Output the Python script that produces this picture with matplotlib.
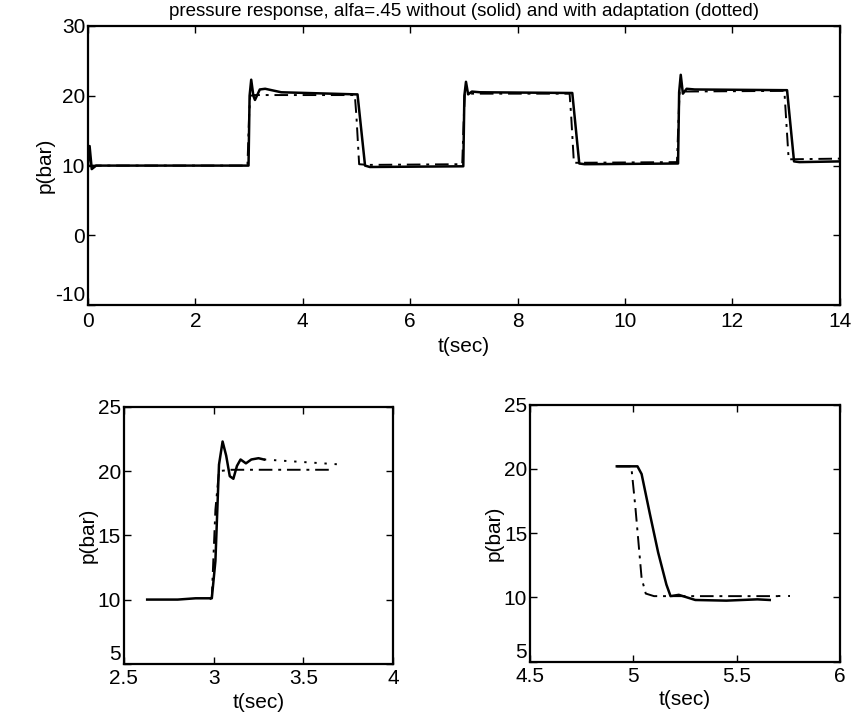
import matplotlib
matplotlib.use("Agg")
import matplotlib.pyplot as plt

plt.rcParams['font.family'] = ['Liberation Sans', 'DejaVu Sans']
plt.rcParams['axes.unicode_minus'] = False

# top panel, whole run (solid = without adaptation, dash-dot = with adaptation)
t_top_solid = [0, 0.03, 0.07, 0.15, 2.99, 3.01, 3.04, 3.08, 3.11, 3.2, 3.3, 3.6,
               4.98, 5.02, 5.16, 5.25, 6.99, 7.01, 7.04, 7.08, 7.15, 7.3,
               8.98, 9.02, 9.15, 9.25, 10.99, 11.01, 11.04, 11.08, 11.15, 11.3,
               12.98, 13.02, 13.15, 13.25, 14.0]
p_top_solid = [10, 12.8, 9.5, 10, 10, 20, 22.3, 20, 19.4, 20.9, 21.0, 20.5,
               20.2, 20.2, 10, 9.8, 9.9, 20, 22, 20.2, 20.6, 20.5,
               20.4, 20.4, 10.3, 10.2, 10.3, 20.5, 23, 20.3, 21.0, 20.9,
               20.8, 20.8, 10.6, 10.5, 10.6]
t_top_adapt = [0, 2.97, 3.0, 3.02, 3.1, 4.97, 5.0, 5.05, 5.2, 6.97, 7.0, 7.02,
               8.97, 9.0, 9.05, 10.97, 11.0, 11.02, 12.97, 13.0, 13.05, 14.0]
p_top_adapt = [10, 10, 17, 20.0, 20.1, 20.1, 17, 10.2, 10.1, 10.2, 17, 20.3,
               20.3, 17, 10.4, 10.5, 17, 20.6, 20.7, 17, 10.9, 11.0]

# bottom left, step up near t=3
t_up_solid = [2.63, 2.80, 2.90, 2.99, 3.01, 3.03, 3.05, 3.07, 3.09, 3.11,
              3.13, 3.15, 3.18, 3.21, 3.25, 3.28]
p_up_solid = [10.0, 10.0, 10.1, 10.1, 13, 20.5, 22.3, 21.2, 19.6, 19.4,
              20.4, 20.9, 20.6, 20.9, 21.0, 20.9]
t_up_dot = [3.28, 3.5, 3.72]
p_up_dot = [20.9, 20.7, 20.5]
t_up_adapt = [2.98, 2.99, 3.01, 3.03, 3.1, 3.65]
p_up_adapt = [10.0, 10.2, 17, 20.0, 20.1, 20.1]

# bottom right, step down near t=5
t_dn_solid = [4.92, 5.02, 5.04, 5.08, 5.12, 5.16, 5.18, 5.22, 5.3, 5.45, 5.6, 5.66]
p_dn_solid = [20.2, 20.2, 19.6, 16.5, 13.5, 11, 10.1, 10.2, 9.8, 9.75, 9.85, 9.8]
t_dn_adapt = [4.92, 4.99, 5.01, 5.04, 5.06, 5.1, 5.7]
p_dn_adapt = [20.2, 20.2, 17, 11.5, 10.3, 10.1, 10.1]
t_dn_dot = [5.7, 5.76]
p_dn_dot = [10.1, 10.1]

title = 'pressure response, alfa=.45 without (solid) and with adaptation (dotted)'

dashdot = (0, (7, 3, 1.5, 3))
dotted = (0, (1.2, 4))
fs = 15

fig = plt.figure(figsize=(8.66, 7.2), dpi=100)


def style(ax, xpad=2, lpad=1):
    ax.tick_params(direction='in', top=True, right=True, length=5, width=1,
                   labelsize=fs, pad=2)
    ax.tick_params(axis='x', pad=xpad)
    for s in ax.spines.values():
        s.set_linewidth(1.6)
    ax.set_xlabel('t(sec)', fontsize=fs, labelpad=lpad)
    ax.set_ylabel('p(bar)', fontsize=fs, labelpad=0)


ax1 = fig.add_axes([0.1016, 0.576, 0.868, 0.388])
ax1.plot(t_top_solid, p_top_solid, color='black', lw=1.8)
ax1.plot(t_top_adapt, p_top_adapt, color='black', lw=1.4, linestyle=dashdot)
ax1.set_xlim(0, 14)
ax1.set_ylim(-10, 30)
ax1.set_xticks(range(0, 15, 2))
ax1.set_yticks([-10, 0, 10, 20, 30])
style(ax1, xpad=5, lpad=4)
ax1.set_title(title, fontsize=13.5, pad=7)

ax2 = fig.add_axes([0.143, 0.078, 0.311, 0.357])
ax2.plot(t_up_solid, p_up_solid, color='black', lw=1.8)
ax2.plot(t_up_dot, p_up_dot, color='black', lw=1.4, linestyle=dotted)
ax2.plot(t_up_adapt, p_up_adapt, color='black', lw=1.4, linestyle=dashdot)
ax2.set_xlim(2.5, 4)
ax2.set_ylim(5, 25)
ax2.set_xticks([2.5, 3, 3.5, 4])
ax2.set_xticklabels(['2.5', '3', '3.5', '4'])
ax2.set_yticks([5, 10, 15, 20, 25])
style(ax2, xpad=4, lpad=3)

ax3 = fig.add_axes([0.612, 0.081, 0.358, 0.357])
ax3.plot(t_dn_solid, p_dn_solid, color='black', lw=1.8)
ax3.plot(t_dn_adapt, p_dn_adapt, color='black', lw=1.4, linestyle=dashdot)
ax3.plot(t_dn_dot, p_dn_dot, color='black', lw=1.4, linestyle=dotted)
ax3.set_xlim(4.5, 6)
ax3.set_ylim(5, 25)
ax3.set_xticks([4.5, 5, 5.5, 6])
ax3.set_xticklabels(['4.5', '5', '5.5', '6'])
ax3.set_yticks([5, 10, 15, 20, 25])
style(ax3, xpad=4, lpad=3)

# lift the lowest y labels so they sit above the x tick labels
for ax in (ax1, ax2, ax3):
    ax.get_yticklabels()[0].set_verticalalignment('bottom')

fig.savefig('out.png', dpi=100)
